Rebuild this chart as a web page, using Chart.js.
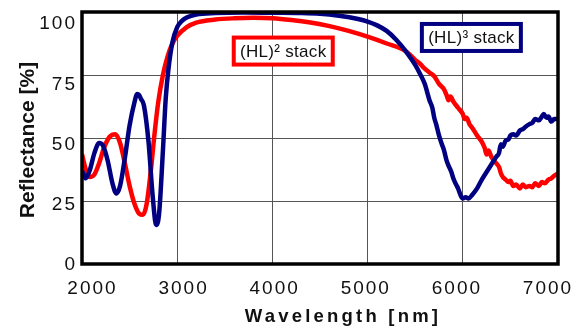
<!DOCTYPE html>
<html>
<head>
<meta charset="utf-8">
<script src="https://cdn.jsdelivr.net/npm/chart.js@4"></script>
<style>
  html, body { margin: 0; padding: 0; background: #fff; }
  #wrap { width: 579px; height: 329px; }
</style>
</head>
<body>
<div id="wrap"><canvas id="chart"></canvas></div>
<script>
// (HL)^2 stack
const redWl = [2000, 2040, 2080, 2130, 2180, 2230, 2290, 2350, 2400, 2450, 2500, 2550, 2600, 2640, 2680, 2720, 2760, 2800, 2850, 2900, 2950, 3000, 3100, 3200, 3400, 3600, 3800, 4000, 4200, 4400, 4600, 4800, 5000, 5200, 5400, 5500, 5550, 5600, 5650, 5700, 5750, 5800, 5830, 5850, 5870, 5900, 5950, 6000, 6020, 6040, 6070, 6100, 6150, 6200, 6230, 6250, 6270, 6300, 6350, 6380, 6400, 6420, 6450, 6480, 6500, 6530, 6560, 6600, 6630, 6660, 6700, 6730, 6760, 6800, 6830, 6860, 6900, 6930, 6960, 7000];
const redR = [43.5, 37.5, 34.5, 35.5, 40, 46, 50.5, 51.5, 48, 40, 31, 24, 20, 19.5, 24, 36, 51, 64, 75, 82.5, 87.5, 90.5, 94, 95.8, 97, 97.5, 97.7, 97.5, 96.8, 95.8, 94.4, 92.5, 90.2, 87.5, 84.5, 81, 79.5, 77.5, 76, 74.5, 71.5, 69.5, 67, 65, 66.5, 64.5, 62, 59.5, 57.5, 58, 55.5, 54, 51, 48.5, 46, 43.5, 45, 42.5, 40, 38.5, 36, 34.5, 33.5, 32.5, 33, 31, 31.5, 30, 31.5, 30.5, 31, 30.5, 32, 31, 32.5, 32, 33.5, 34, 35, 36];

// (HL)^3 stack
const blueWl = [2000, 2040, 2080, 2130, 2180, 2220, 2270, 2320, 2360, 2400, 2450, 2500, 2550, 2580, 2600, 2620, 2650, 2700, 2740, 2780, 2810, 2850, 2880, 2910, 2950, 3000, 3050, 3100, 3200, 3400, 3700, 4000, 4300, 4500, 4700, 4900, 5000, 5100, 5200, 5300, 5400, 5500, 5550, 5600, 5650, 5680, 5700, 5720, 5750, 5780, 5800, 5830, 5850, 5880, 5900, 5930, 5950, 5980, 6000, 6030, 6060, 6100, 6150, 6200, 6250, 6300, 6350, 6380, 6400, 6420, 6450, 6480, 6500, 6530, 6560, 6600, 6630, 6660, 6700, 6730, 6760, 6800, 6830, 6850, 6880, 6900, 6930, 6960, 7000];
const blueR = [37, 34, 37, 44, 48, 47, 41, 32, 28, 31, 42, 55, 64, 67.5, 67, 65.5, 63, 48, 28, 15.5, 20, 45, 66, 78, 88, 94, 96.5, 97.8, 99, 99.6, 99.8, 99.7, 99.6, 99.3, 98.5, 97.2, 96.2, 94.7, 92.5, 89, 84.5, 79, 75.5, 71.5, 65, 62, 58, 55.5, 51, 47.5, 45.5, 41, 39, 36.5, 34, 31.5, 30, 27, 26, 26.5, 26, 27.5, 30, 33.5, 36.5, 39.5, 42.5, 44, 47.5, 46.5, 49, 49.5, 51, 51.5, 51, 53, 53.5, 54.5, 55.5, 56, 57.5, 57, 58.5, 59.5, 58, 58.5, 56.5, 57.5, 57.5];

const xTicks = [2000, 3000, 4000, 5000, 6000, 7000];
const yTicks = [0, 25, 50, 75, 100];

const xTitle = "Wavelength [nm]";
const yTitle = "Reflectance [%]";

const seriesNames = ["(HL)² stack", "(HL)³ stack"];
const labelX = [4114, 6090];
const labelY = [84.5, 89.9];

const RED = "#ff0000";
const NAVY = "#000080";
const FONT = "'Liberation Sans', Arial, sans-serif";

const toPoints = (xs, ys) => xs.map((x, i) => ({ x, y: ys[i] }));

const spacing = {
    id: "spacing",
    beforeLayout(chart) { chart.ctx.letterSpacing = "2px"; },
    beforeDraw(chart) { chart.ctx.letterSpacing = "2px"; }
};

const frame = {
    id: "frame",
    afterDraw(chart) {
        const { ctx, chartArea: a, scales } = chart;
        ctx.save();
        ctx.strokeStyle = "#000";
        ctx.lineWidth = 3.5;
        ctx.strokeRect(a.left, a.top, a.right - a.left, a.bottom - a.top);

        // axis titles (the source stretches its text, so each gets its own spacing)
        ctx.fillStyle = "#111";
        ctx.textAlign = "center";
        ctx.textBaseline = "alphabetic";
        ctx.font = "bold 18.5px " + FONT;
        ctx.letterSpacing = "3.2px";
        ctx.fillText(xTitle, 343, 322);

        ctx.save();
        ctx.translate(33.5, 140);
        ctx.rotate(-Math.PI / 2);
        ctx.font = "bold 21px " + FONT;
        ctx.letterSpacing = "0px";
        ctx.fillText(yTitle, 0, 0);
        ctx.restore();

        // series name boxes
        const colors = [RED, NAVY];
        ctx.letterSpacing = "0.3px";
        ctx.font = "17px " + FONT;
        ctx.textBaseline = "middle";
        seriesNames.forEach((name, i) => {
            const cx = scales.x.getPixelForValue(labelX[i]);
            const cy = scales.y.getPixelForValue(labelY[i]);
            const w = 99, h = 27;
            ctx.fillStyle = "#fff";
            ctx.fillRect(cx - w / 2, cy - h / 2, w, h);
            ctx.strokeStyle = colors[i];
            ctx.lineWidth = 4;
            ctx.strokeRect(cx - w / 2, cy - h / 2, w, h);
            ctx.fillStyle = "#111";
            ctx.fillText(name, cx, cy + 1);
        });
        ctx.restore();
    }
};

const tickFont = { family: FONT, size: 19 };

const ctx = document.getElementById("chart").getContext("2d");
new Chart(ctx, {
    type: "scatter",
    data: {
        datasets: [{
            label: seriesNames[0],
            data: toPoints(redWl, redR),
            borderColor: RED,
            showLine: true,
            borderWidth: 4.5,
            pointRadius: 0,
            cubicInterpolationMode: "monotone",
            order: 1
        }, {
            label: seriesNames[1],
            data: toPoints(blueWl, blueR),
            borderColor: NAVY,
            showLine: true,
            borderWidth: 4.5,
            pointRadius: 0,
            cubicInterpolationMode: "monotone",
            order: 0
        }]
    },
    options: {
        responsive: true,
        maintainAspectRatio: false,
        animation: false,
        layout: { padding: { top: 12, right: 21, left: 0, bottom: 0 } },
        plugins: { legend: { display: false }, tooltip: { enabled: false } },
        scales: {
            // data axes: carry the grid only
            x: {
                type: "linear",
                min: 2000,
                max: 7000,
                afterBuildTicks: axis => { axis.ticks = xTicks.map(value => ({ value })); },
                afterFit: axis => { axis.height = 0; axis.paddingLeft = 0; axis.paddingRight = 0; },
                grid: { color: "#555", lineWidth: 1, drawTicks: false },
                border: { display: false },
                ticks: { display: false }
            },
            y: {
                min: 0,
                max: 100,
                afterBuildTicks: axis => { axis.ticks = yTicks.map(value => ({ value })); },
                afterFit: axis => { axis.width = 0; axis.paddingTop = 0; axis.paddingBottom = 0; },
                grid: { color: "#555", lineWidth: 1, drawTicks: false },
                border: { display: false },
                ticks: { display: false }
            },
            // label axes: the source spreads its tick labels a little differently from its grid
            xLabels: {
                type: "linear",
                position: "bottom",
                min: 1885,
                max: 7110,
                afterBuildTicks: axis => { axis.ticks = xTicks.map(value => ({ value })); },
                afterFit: axis => { axis.height = 65; axis.paddingLeft = 0; axis.paddingRight = 0; },
                grid: { display: false, drawTicks: false },
                border: { display: false },
                ticks: {
                    color: "#111",
                    font: tickFont,
                    padding: 13,
                    maxRotation: 0,
                    autoSkip: false,
                    callback: value => String(value)
                }
            },
            yLabels: {
                type: "linear",
                position: "left",
                min: 0.4,
                max: 105,
                afterBuildTicks: axis => { axis.ticks = yTicks.map(value => ({ value })); },
                afterFit: axis => { axis.width = 82; axis.paddingTop = 0; axis.paddingBottom = 0; },
                grid: { display: false, drawTicks: false },
                border: { display: false },
                ticks: { color: "#111", font: tickFont, padding: 5 }
            }
        }
    },
    plugins: [spacing, frame]
});
</script>
</body>
</html>
